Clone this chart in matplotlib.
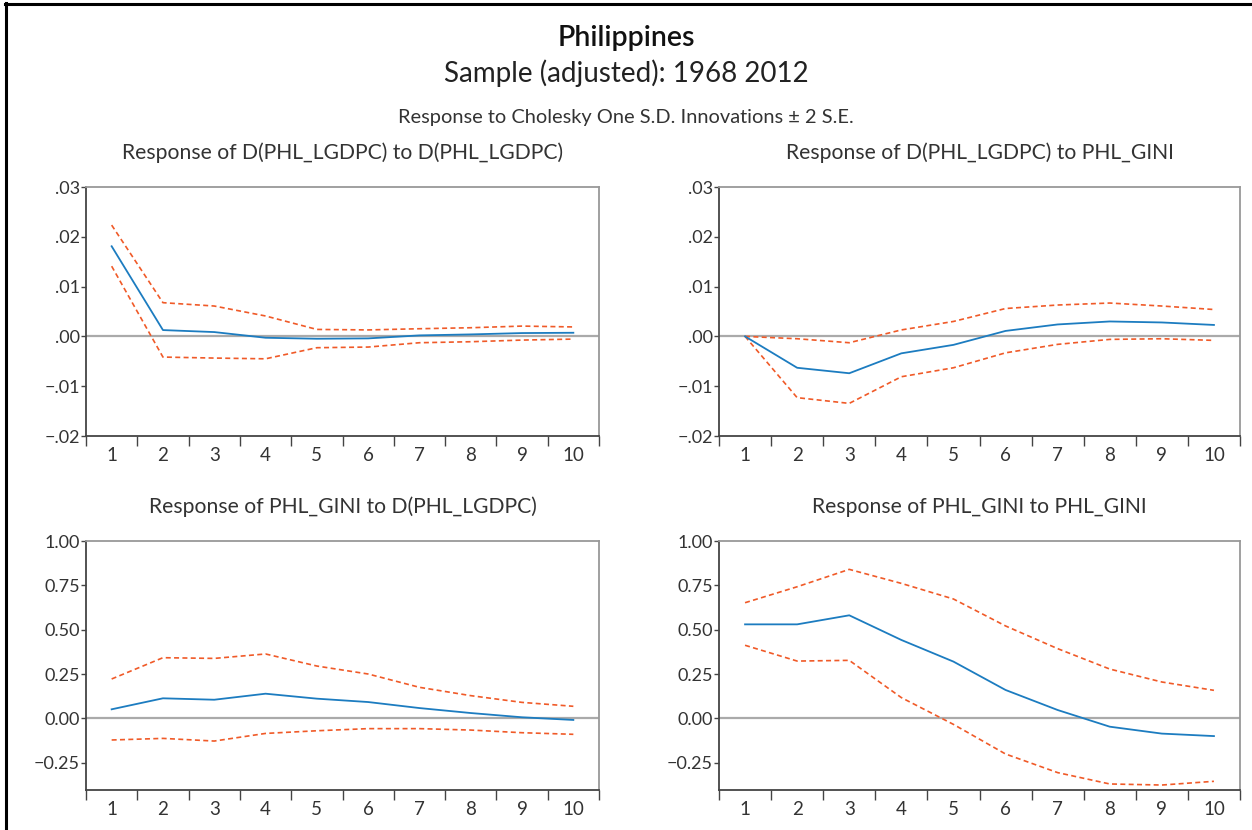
import numpy as np
import matplotlib
matplotlib.use("Agg")
import matplotlib.pyplot as plt
from matplotlib.lines import Line2D
from matplotlib.ticker import FixedLocator, FuncFormatter

plt.rcParams['font.family'] = ['Lato', 'DejaVu Sans']

periods = np.arange(1, 11)

# Response of D(PHL_LGDPC) to D(PHL_LGDPC)
gdp_gdp = [0.0181, 0.00127, 0.00087, -0.00027, -0.00047, -0.0004, 0.0002, 0.0004, 0.00067, 0.00073]
gdp_gdp_hi = [0.02235, 0.00677, 0.0061, 0.0041, 0.0014, 0.0013, 0.00154, 0.00174, 0.00207, 0.0019]
gdp_gdp_lo = [0.0141, -0.00415, -0.00435, -0.0045, -0.00227, -0.00214, -0.00127, -0.00107, -0.00074, -0.00054]

# Response of D(PHL_LGDPC) to PHL_GINI
gdp_gini = [0.0, -0.0063, -0.0074, -0.0034, -0.0017, 0.0011, 0.0024, 0.0030, 0.0028, 0.0023]
gdp_gini_hi = [0.0, -0.00047, -0.00127, 0.0013, 0.003, 0.0056, 0.0063, 0.0067, 0.0061, 0.0054]
gdp_gini_lo = [0.0, -0.0123, -0.01345, -0.0081, -0.0063, -0.0033, -0.0016, -0.0006, -0.00047, -0.0008]

# Response of PHL_GINI to D(PHL_LGDPC)
gini_gdp = [0.051, 0.113, 0.105, 0.139, 0.111, 0.092, 0.058, 0.030, 0.006, -0.009]
gini_gdp_hi = [0.222, 0.342, 0.338, 0.363, 0.295, 0.25, 0.175, 0.128, 0.09, 0.068]
gini_gdp_lo = [-0.122, -0.113, -0.128, -0.085, -0.07, -0.058, -0.058, -0.066, -0.081, -0.09]

# Response of PHL_GINI to PHL_GINI
gini_gini = [0.530, 0.530, 0.581, 0.442, 0.320, 0.160, 0.047, -0.047, -0.086, -0.1]
gini_gini_hi = [0.652, 0.742, 0.840, 0.761, 0.673, 0.521, 0.393, 0.278, 0.205, 0.158]
gini_gini_lo = [0.412, 0.323, 0.327, 0.117, -0.034, -0.201, -0.306, -0.370, -0.376, -0.355]

W, H = 1252, 830
fig = plt.figure(figsize=(W / 100, H / 100), dpi=100)

BLUE = '#1c7cc0'
RED = '#f05a28'


def dot_fmt(v, pos):
    s = '%.2f' % v
    s = s.replace('0.', '.', 1) if abs(v) < 1 else s
    return s.replace('-', '\u2212')


def dec_fmt(v, pos):
    return ('%.2f' % v).replace('-', '\u2212')


def panel(box, title, mid, hi, lo, ylim, yticks, fmt):
    l, r, t, b = box
    ax = fig.add_axes([l / W, (H - b) / H, (r - l) / W, (b - t) / H])
    ax.axhline(0, color='#aaaaaa', lw=1.6, zorder=1)
    ax.plot(periods, hi, color=RED, lw=1.2, ls=(0, (3, 2)), zorder=2)
    ax.plot(periods, lo, color=RED, lw=1.2, ls=(0, (3, 2)), zorder=2)
    ax.plot(periods, mid, color=BLUE, lw=1.3, zorder=3)
    ax.set_xlim(0.5, 10.5)
    ax.set_ylim(*ylim)
    ax.set_yticks(yticks)
    ax.yaxis.set_major_formatter(FuncFormatter(fmt))
    ax.xaxis.set_major_locator(FixedLocator(np.arange(0.5, 11, 1)))
    ax.xaxis.set_minor_locator(FixedLocator(periods))
    ax.set_xticklabels([])
    ax.set_xticklabels([str(p) for p in periods], minor=True)
    ax.tick_params(axis='x', which='major', direction='out', length=7, width=1, color='#444444')
    ax.tick_params(axis='x', which='minor', length=0, pad=8, labelsize=13.5, labelcolor='#333333')
    ax.tick_params(axis='y', direction='out', length=3.5, width=1, color='#444444',
                   labelsize=13, labelcolor='#333333', pad=1)
    for s in ('left', 'bottom'):
        ax.spines[s].set_color('#444444')
        ax.spines[s].set_linewidth(1.3)
    for s in ('top', 'right'):
        ax.spines[s].set_color('#999999')
        ax.spines[s].set_linewidth(1.3)
    fig.text((l + r) / 2 / W, 1 - (t - 34) / H, title, ha='center', va='center',
             fontsize=15.2, color='#333333')
    return ax


small_ticks = [-0.02, -0.01, 0.0, 0.01, 0.02, 0.03]
big_ticks = [-0.25, 0.0, 0.25, 0.5, 0.75, 1.0]

panel((86, 599, 187, 436), 'Response of D(PHL_LGDPC) to D(PHL_LGDPC)',
      gdp_gdp, gdp_gdp_hi, gdp_gdp_lo, (-0.02, 0.03), small_ticks, dot_fmt)
panel((719, 1240, 187, 436), 'Response of D(PHL_LGDPC) to PHL_GINI',
      gdp_gini, gdp_gini_hi, gdp_gini_lo, (-0.02, 0.03), small_ticks, dot_fmt)
panel((86, 599, 541, 790), 'Response of PHL_GINI to D(PHL_LGDPC)',
      gini_gdp, gini_gdp_hi, gini_gdp_lo, (-0.404, 1.0), big_ticks, dec_fmt)
panel((719, 1240, 541, 790), 'Response of PHL_GINI to PHL_GINI',
      gini_gini, gini_gini_hi, gini_gini_lo, (-0.404, 1.0), big_ticks, dec_fmt)

fig.text(0.5, 1 - 38 / H, 'Philippines', ha='center', va='center',
         fontsize=20.5, fontweight='semibold', color='#111111')
fig.text(0.5, 1 - 73 / H, 'Sample (adjusted): 1968 2012', ha='center', va='center',
         fontsize=20, color='#222222')
fig.text(0.5, 1 - 117 / H, 'Response to Cholesky One S.D. Innovations \u00b1 2 S.E.',
         ha='center', va='center', fontsize=14.4, color='#333333')

# outer frame (top and left edges only)
fig.add_artist(Line2D([5 / W, 1], [1 - 4 / H, 1 - 4 / H], transform=fig.transFigure,
                      color='black', lw=2.2))
fig.add_artist(Line2D([6 / W, 6 / W], [0, 1 - 3 / H], transform=fig.transFigure,
                      color='black', lw=2.2))

fig.savefig('out.png', dpi=100)
